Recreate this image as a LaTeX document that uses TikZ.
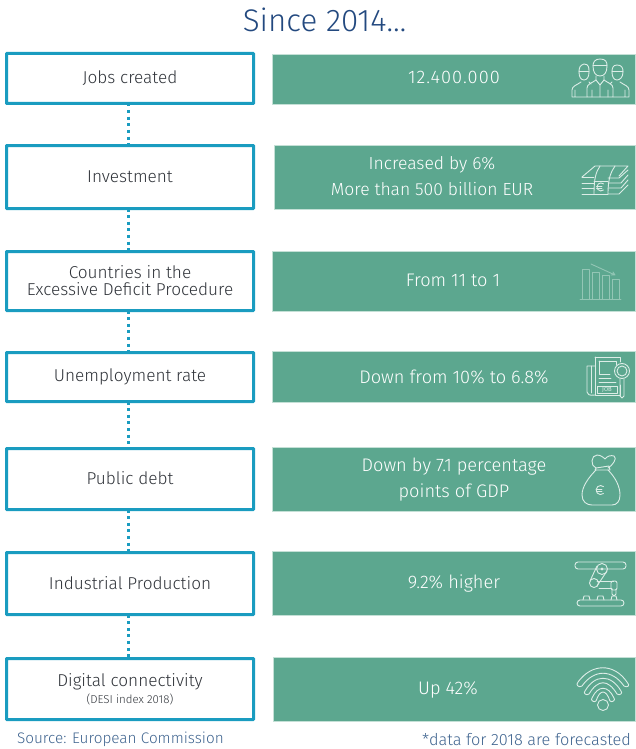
\documentclass[tikz,border=0pt]{standalone}
\usepackage{fontspec}
\setmainfont{Fira Sans Light}
\newfontfamily\regfont{Fira Sans}
\definecolor{boxblue}{HTML}{1A9CC0}
\definecolor{panel}{HTML}{5CA78F}
\definecolor{panelline}{HTML}{C4E0D6}
\definecolor{titleblue}{HTML}{23497F}
\definecolor{srcblue}{HTML}{3F648F}
\definecolor{ink}{HTML}{30343A}
\definecolor{icon}{HTML}{DCEDE7}
\definecolor{dimicon}{HTML}{93C6B5}
\tikzset{
  x=1pt,y=-1pt,
  leftbox/.style={draw=boxblue,line width=3pt,fill=white,rounded corners=.6pt,anchor=north west,inner sep=0pt,outer sep=0pt,align=center,text=ink,font=\fontsize{17.2}{17}\selectfont},
  rightbox/.style={fill=panel,draw=panelline,line width=.6pt,anchor=north west,inner sep=0pt,outer sep=0pt},
  rtext/.style={text=white,font=\fontsize{18.2}{26}\selectfont,align=center},
  link/.style={draw=boxblue,line width=3pt,dash pattern=on 3pt off 3.6pt},
  ico/.style={draw=icon,line width=.9pt,line join=round,line cap=round},
  dimico/.style={draw=dimicon,line width=.9pt,line join=round,line cap=round},
}
\newcommand{\lbox}[6]{\node[leftbox,minimum width=#3pt,minimum height=#4pt] (#5) at (#1,#2) {#6};}
\newcommand{\rbox}[5]{\node[rightbox,minimum width=#3pt,minimum height=#4pt] (#5) at (#1,#2) {};}
\begin{document}
\begin{tikzpicture}
\useasboundingbox (0,0) rectangle (636,749);
\node[text=titleblue,font=\fontsize{31.3}{32}\selectfont] (title) at (324.5,20) {Since 2014\ldots};

\lbox{6.5}{53.5}{247}{50}{a1}{\raisebox{1.5pt}{Jobs created}}
\lbox{6.5}{145.5}{247}{63}{a2}{\raisebox{1.5pt}{Investment}}
\lbox{6.5}{251.5}{247}{59}{a3}{Countries in the\\Excessive Deficit Procedure}
\lbox{6.5}{352.5}{247}{49}{a4}{\raisebox{.5pt}{Unemployment rate}}
\lbox{6.5}{448.5}{247}{61}{a5}{\raisebox{1pt}{Public debt}}
\lbox{6.5}{552.5}{247}{62}{a6}{\raisebox{1pt}{Industrial Production}}
\node[leftbox,minimum width=247pt,minimum height=61pt] (a7) at (6.5,658.5) {\raisebox{1pt}{Digital connectivity}\\[-1pt]{\fontsize{11.5}{12}\selectfont (DESI index 2018)}};

\foreach \u/\v in {a1/a2,a2/a3,a3/a4,a4/a5,a5/a6,a6/a7}
  \draw[link] ([xshift=-2pt]\u.south) -- ([xshift=-2pt]\v.north);

\rbox{272}{54}{363.5}{50}{b1}
\rbox{274}{145}{361.5}{64}{b2}
\rbox{272}{251}{363.5}{60}{b3}
\rbox{272}{351}{363.5}{51}{b4}
\rbox{272}{447}{363.5}{64}{b5}
\rbox{272}{551}{363.5}{64}{b6}
\rbox{273}{657}{362.5}{64}{b7}

\node[rtext] (t1) at (454,77.5) {\addfontfeature{LetterSpace=6}12.400.000};
\node[rtext,font=\fontsize{17.5}{26}\selectfont] (t2) at (432,176.5) {Increased by 6\%\\More than 500 billion EUR};
\node[rtext] (t3) at (453,280.5) {From 11 to 1};
\node[rtext] (t4) at (454,376.5) {Down from 10\% to 6.8\%};
\node[rtext] (t5) at (454,479.5) {Down by 7.1 percentage\\points of GDP};
\node[rtext] (t6) at (454,584) {9.2\% higher};
\node[rtext] (t7) at (448,690) {Up 42\%};

\node[text=srcblue,anchor=west,font=\fontsize{15.3}{16}\selectfont] (src) at (13.5,739.5) {Source: European Commission};
\node[text=srcblue,anchor=east,font=\fontsize{16.3}{16}\selectfont] (note) at (634.5,739.5) {*data for 2018 are forecasted};

% people
\begin{scope}[ico]
\draw (600,59) .. controls (606,59) and (607,62) .. (607,66) .. controls (607,73) and (604,76) .. (600,76) .. controls (596,76) and (593,73) .. (593,66) .. controls (593,62) and (595,59) .. (600,59);
\draw (593,65) -- (607,65);
\draw (587,97) -- (587,88) .. controls (587,84) and (592,83) .. (596,80) -- (596,76) (604,76) -- (604,80) .. controls (608,83) and (613,84) .. (613,88) -- (613,97) -- (587,97);
\draw (600,85) -- (600,97) (592,90) -- (592,97) (608,90) -- (608,97) (596,80) -- (600,85) -- (604,80);
\draw (584,64) .. controls (589,64) and (589,68) .. (589,72) .. controls (589,77) and (587,80) .. (584,80) .. controls (581,80) and (579,77) .. (579,72) .. controls (579,68) and (580,65) .. (584,64);
\draw (579,71) -- (589,71);
\draw (587,97) -- (572,97) -- (572,90) .. controls (572,86) and (577,85) .. (581,82) (575,90) -- (575,97) (589,82) -- (591,84);
\draw (617,65) .. controls (622,65) and (623,68) .. (623,72) .. controls (623,77) and (620,80) .. (617,80) .. controls (614,80) and (612,77) .. (612,72) .. controls (612,68) and (613,65) .. (617,65);
\draw (612,71) -- (623,71);
\draw (613,97) -- (629,97) -- (629,90) .. controls (629,86) and (624,85) .. (620,82) (625,90) -- (625,97) (612,82) -- (610,84);
\end{scope}
% money
\begin{scope}[ico]
\draw (582,177) -- (595,166) -- (628,166) -- (619,176);
\draw (600,166) .. controls (596,172) and (594,178) .. (594,194);
\draw (615,166) .. controls (611,172) and (608,178) .. (608,194);
\draw (594,194) -- (608,194) (594,181) -- (608,181);
\draw (582,177) -- (594,177) (582,183) -- (594,183) (582,188) -- (594,188) (582,194) -- (594,194);
\draw (608,178) -- (619,178) -- (628,170) (608,183) -- (621,183) -- (628,175) (608,188) -- (621,188) -- (628,180) (608,194) -- (619,194) -- (628,185);
\draw (603.5,190) arc[start angle=50,end angle=310,radius=4];
\draw (596.5,186) -- (602,186) (596.5,188.5) -- (602,188.5);
\end{scope}
% chart
\begin{scope}[dimico]
\draw (580,299) -- (621,299);
\draw (582,299) -- (582,269) -- (589,269) -- (589,299);
\draw (592,299) -- (592,272) -- (599,272) -- (599,299);
\draw (602,299) -- (602,275) -- (609,275) -- (609,299);
\draw (612,299) -- (612,279) -- (619,279) -- (619,299);
\draw (591,264) -- (615,275) (615,275) -- (611,275) (615,275) -- (613,272);
\end{scope}
% newspaper
\begin{scope}[ico]
\draw (595,357) -- (620,357) -- (620,362);
\draw (595,357) -- (595,395) -- (620,395) -- (620,385);
\draw (595,366) -- (587,366) -- (587,392) .. controls (587,394) and (589,396) .. (595,395);
\draw (591,366) -- (591,393);
\draw (599,361) -- (616,361) -- (616,365) (599,361) -- (599,374) -- (610,374);
\draw (599,378) -- (611,378) (599,382) -- (616,382);
\draw (622,371) circle[radius=7.5] (622,371) circle[radius=5];
\draw (620,379) -- (620,396) -- (622,398) -- (624,396) -- (624,379);
\draw (597,386) rectangle (617,393);
\node[text=icon,inner sep=0pt,font=\regfont\fontsize{6}{6}\selectfont] (jobword) at (607,389.7) {JOB};
\end{scope}
% bag
\begin{scope}[ico]
\draw (596,468) .. controls (590,466) and (591,455) .. (597,455) .. controls (601,455) and (604,458) .. (605,459) .. controls (607,456) and (611,455) .. (614,456) .. controls (618,458) and (612,466) .. (608,468);
\draw (596,468) -- (609,466) -- (610,470) -- (595,470) -- (596,468);
\draw (596,470) .. controls (588,478) and (582,487) .. (582,495) .. controls (582,502) and (587,505) .. (592,505) -- (612,505) .. controls (617,505) and (620,501) .. (620,495) .. controls (620,486) and (615,477) .. (608,470);
\draw (603.5,493.5) arc[start angle=50,end angle=310,radius=4.5];
\draw (596.5,489) -- (602,489) (596.5,491.5) -- (602,491.5);
\end{scope}
% robot
\begin{scope}[ico]
\draw[rounded corners=3pt] (575,562) rectangle (626,569);
\draw[rounded corners=3pt] (577,600) rectangle (624,606);
\draw (602,569) circle[radius=5.5] (602,569) circle[radius=1];
\draw (597,566) -- (590,581) (607,571) -- (597,586);
\draw (594,583) circle[radius=4.5];
\draw (597,581) -- (614,581) (599,588) -- (612,588);
\draw[rounded corners=2pt] (611,581) rectangle (617,590);
\draw (612,590) -- (612,594) -- (614,596) -- (616,594) -- (616,590);
\draw (583,600) -- (584,596) -- (589,596) -- (590,600);
\draw (597,600) -- (598,596) -- (603,596) -- (604,600);
\draw (611,600) -- (612,596) -- (616,596) -- (617,600);
\end{scope}
% wifi
\begin{scope}[ico]
\draw (603,705) circle[radius=5.5];
\draw (592,698) .. controls (598,685) and (608,685) .. (614,698) .. controls (616,700) and (612,703) .. (610,701) .. controls (606,689) and (600,689) .. (596,701) .. controls (594,703) and (590,700) .. (592,698);
\draw (585,691) .. controls (595,674) and (611,674) .. (621,691) .. controls (623,693) and (620,696) .. (617,694) .. controls (608,679) and (598,679) .. (589,694) .. controls (586,696) and (583,693) .. (585,691);
\draw (578,682) .. controls (592,663) and (614,663) .. (627,682) .. controls (631,686) and (627,688) .. (624,686) .. controls (612,669) and (594,669) .. (582,686) .. controls (579,688) and (575,685) .. (578,682);
\end{scope}
\end{tikzpicture}
\end{document}
